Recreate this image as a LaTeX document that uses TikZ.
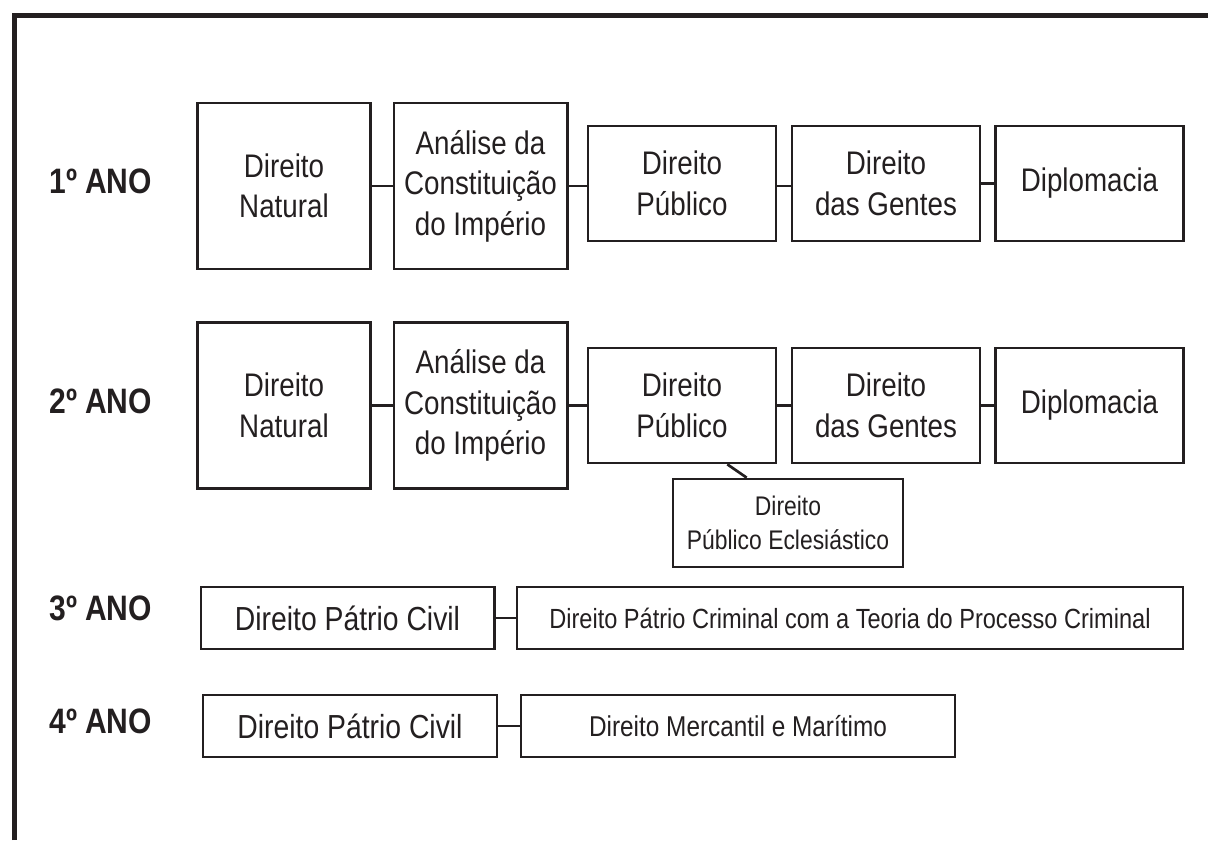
\documentclass[tikz,border=0pt]{standalone}
\usepackage{fontspec}
\setmainfont{Liberation Sans}[FakeStretch=0.85]
\definecolor{ink}{HTML}{231F20}

\begin{document}
\begin{tikzpicture}[x=0.75pt,y=-0.75pt,draw=ink,text=ink,line width=2pt]
    \tikzstyle{box}=[rectangle,draw,inner sep=0pt,align=center]
    \tikzstyle{tall}=[box,minimum width=130pt,minimum height=124.5pt,
      font=\fontsize{24.5}{30.4}\selectfont]
    \tikzstyle{short}=[box,minimum width=141pt,minimum height=86.25pt,
      font=\fontsize{24.5}{30.4}\selectfont]
    \tikzstyle{flat}=[box,minimum height=46.5pt,font=\fontsize{25}{30}\selectfont]
    \tikzstyle{year}=[anchor=west,inner sep=0pt,font=\bfseries\fontsize{26.5}{30}\selectfont]

    \useasboundingbox (0,0) rectangle (1208,840);

    % outer frame (only left and top edges show)
    \draw[line width=3.75pt] (14,840) -- (14,15) -- (1208,15);

    % year labels
    \node[year] (Y-1) at (48,181) {1º ANO};
    \node[year] (Y-2) at (48,401) {2º ANO};
    \node[year] (Y-3) at (48,608) {3º ANO};
    \node[year] (Y-4) at (48,721) {4º ANO};

    % first and second year subjects
    \foreach \r/\y/\s in {1/186/183.5,2/405.5/405.5} {
      \node[tall] (N-\r-1) at (284,\y) {Direito\\Natural};
      \node[tall] (N-\r-2) at (480.5,\y) {Análise da\\Constituição\\do Império};
      \node[short] (N-\r-3) at (682,\s) {Direito\\Público};
      \node[short] (N-\r-4) at (886,\s) {Direito\\das Gentes};
      \node[short] (N-\r-5) at (1089.5,\s) {Diplomacia};
    }

    % second year extra subject
    \node[box,minimum width=172.5pt,minimum height=66pt,
      font=\fontsize{20.2}{26}\selectfont] (E-2) at (788,523)
      {Direito\\Público Eclesiástico};

    % third and fourth year subjects
    \node[flat,minimum width=220pt] (C-3) at (347.5,618) {Direito Pátrio Civil};
    \node[flat,minimum width=499.5pt,font=\fontsize{20.8}{24}\selectfont] (K-3)
      at (850,618) {Direito Pátrio Criminal com a Teoria do Processo Criminal};
    \node[flat,minimum width=220.5pt] (C-4) at (350,726) {Direito Pátrio Civil};
    \node[flat,minimum width=325.5pt,font=\fontsize{21.5}{24}\selectfont] (K-4)
      at (738,726) {Direito Mercantil e Marítimo};

    % links inside each row
    \foreach \r in {1,2} {
      \draw (N-\r-1) -- (N-\r-2);
      \draw (N-\r-2.east) -- (N-\r-2.east -| N-\r-3.west);
      \draw (N-\r-3.east |- N-\r-2.east) -- (N-\r-4.west |- N-\r-2.east);
      \draw (N-\r-4) -- (N-\r-5);
    }
    \draw ([xshift=34pt]N-2-3.south) -- ([xshift=-31pt]E-2.north);
    \draw (C-3) -- (K-3);
    \draw (C-4) -- (K-4);
  \end{tikzpicture}
\end{document}
